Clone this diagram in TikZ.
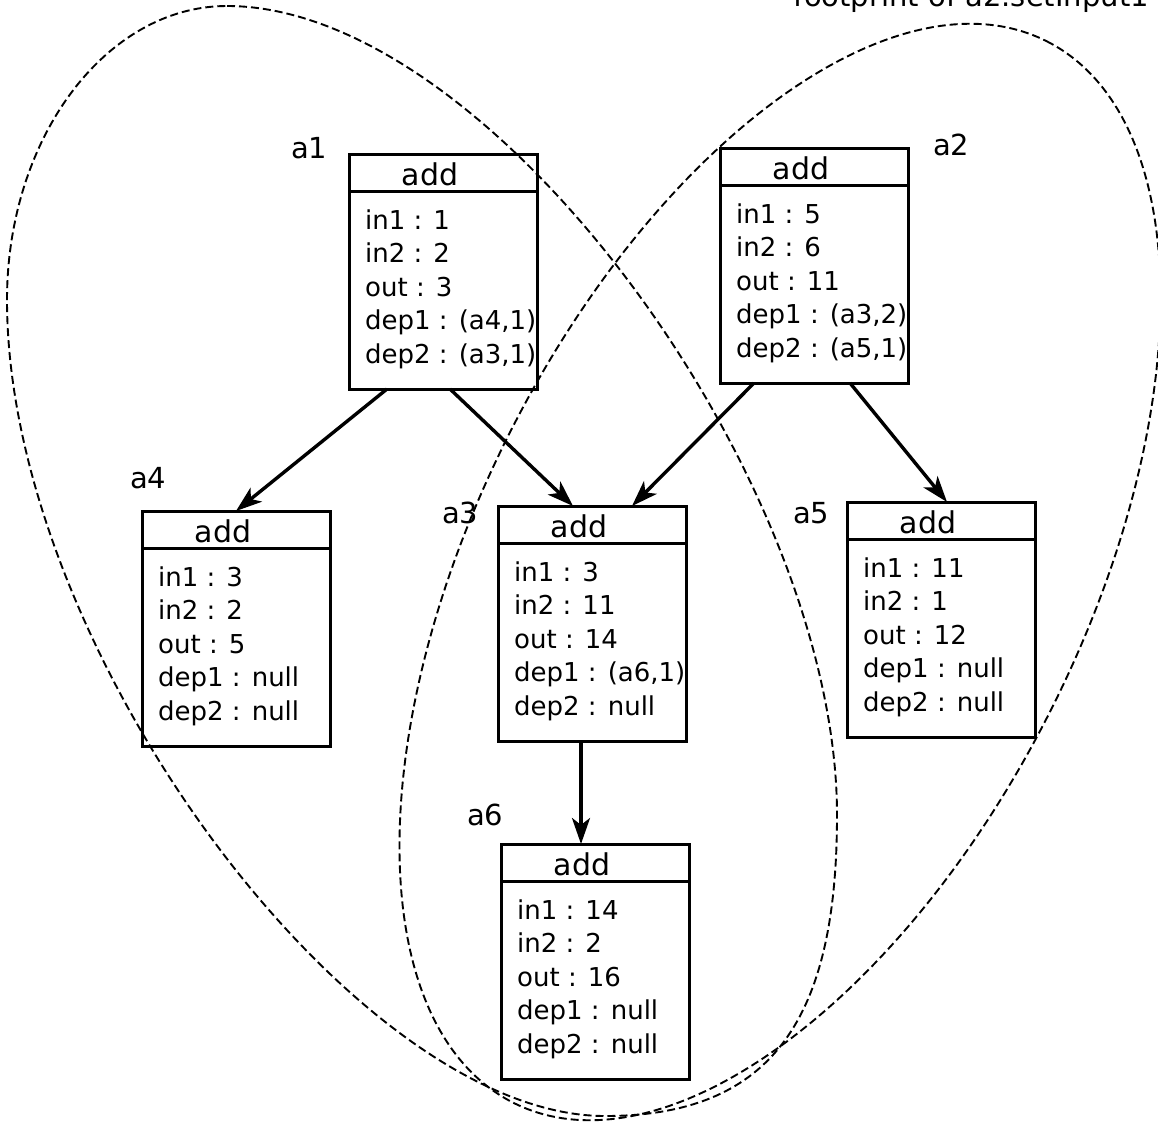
\documentclass[tikz,border=0pt]{standalone}
\usepackage{fontspec}
\setmainfont{DejaVu Sans}
\usetikzlibrary{arrows.meta,calc}
\tikzset{
  opbox/.style={draw, line width=3pt, minimum width=188pt, minimum height=235pt, inner sep=0pt, outer sep=0pt, anchor=north west},
  hdrline/.style={line width=3pt},
  hdr/.style={anchor=base, inner sep=0pt, font=\fontsize{30}{36}\selectfont},
  fld/.style={anchor=base west, inner sep=0pt, font=\fontsize{26}{31}\selectfont},
  lbl/.style={anchor=base west, inner sep=0pt, font=\fontsize{29}{34}\selectfont},
  arr/.style={line width=3.4pt, -{Stealth[length=26pt,width=18pt,inset=7pt]}},
  footline/.style={line width=1.9pt, dash pattern=on 8pt off 4pt}
}
\newcommand{\mkopbox}[8]{%
  \node[opbox] (#1) at (#2,#3) {};
  \draw[hdrline] ([yshift=-37.5pt]#1.north west) -- ([yshift=-37.5pt]#1.north east);
  \node[hdr] (#1-h) at ([xshift=81pt,yshift=-31pt]#1.north west) {add};
  \node[fld] (#1-f1) at ([xshift=16pt,yshift=-75pt]#1.north west) {#4};
  \node[fld] (#1-f2) at ([xshift=16pt,yshift=-108.5pt]#1.north west) {#5};
  \node[fld] (#1-f3) at ([xshift=16pt,yshift=-142pt]#1.north west) {#6};
  \node[fld] (#1-f4) at ([xshift=16pt,yshift=-175.5pt]#1.north west) {#7};
  \node[fld] (#1-f5) at ([xshift=16pt,yshift=-209pt]#1.north west) {#8};
}
\begin{document}
\begin{tikzpicture}[x=1pt,y=-1pt]
\useasboundingbox (0,0) rectangle (1158,1124);

% footprint loops
\draw[footline] (227,6) .. controls (492,6) and (837,480) .. (837,815)
  .. controls (837,1015) and (775,1116) .. (605,1116)
  .. controls (355,1116) and (7,650) .. (7,300)
  .. controls (7,138) and (106,6) .. cycle;
\draw[footline, rotate around={63.35:(780,572)}] (780,572) ellipse [x radius=594, y radius=304];

\node[lbl, anchor=base east] (title) at (1149,7) {footprint of a2.setInput1};

\mkopbox{a1}{349}{154}{in1 : 1}{in2 : 2}{out : 3}{dep1 : (a4,1)}{dep2 : (a3,1)}
\mkopbox{a2}{720}{148}{in1 : 5}{in2 : 6}{out : 11}{dep1 : (a3,2)}{dep2 : (a5,1)}
\mkopbox{a4}{142}{511}{in1 : 3}{in2 : 2}{out : 5}{dep1 : null}{dep2 : null}
\mkopbox{a3}{498}{506}{in1 : 3}{in2 : 11}{out : 14}{dep1 : (a6,1)}{dep2 : null}
\mkopbox{a5}{847}{502}{in1 : 11}{in2 : 1}{out : 12}{dep1 : null}{dep2 : null}
\mkopbox{a6}{501}{844}{in1 : 14}{in2 : 2}{out : 16}{dep1 : null}{dep2 : null}

\node[lbl] (l1) at (291,158) {a1};
\node[lbl] (l2) at (933,155) {a2};
\node[lbl] (l4) at (130,488) {a4};
\node[lbl] (l3) at (442,523) {a3};
\node[lbl] (l5) at (793,523) {a5};
\node[lbl] (l6) at (467,825) {a6};

\draw[arr] ([xshift=38pt]a1.south west) -- ([xshift=94pt]a4.north west);
\draw[arr] ([xshift=101pt]a1.south west) -- ([xshift=75pt]a3.north west);
\draw[arr] ([xshift=34pt]a2.south west) -- ([xshift=134pt]a3.north west);
\draw[arr] ([xshift=130pt]a2.south west) -- ([xshift=100pt]a5.north west);
\draw[arr] ([xshift=83pt]a3.south west) -- ([xshift=80pt]a6.north west);
\end{tikzpicture}
\end{document}
